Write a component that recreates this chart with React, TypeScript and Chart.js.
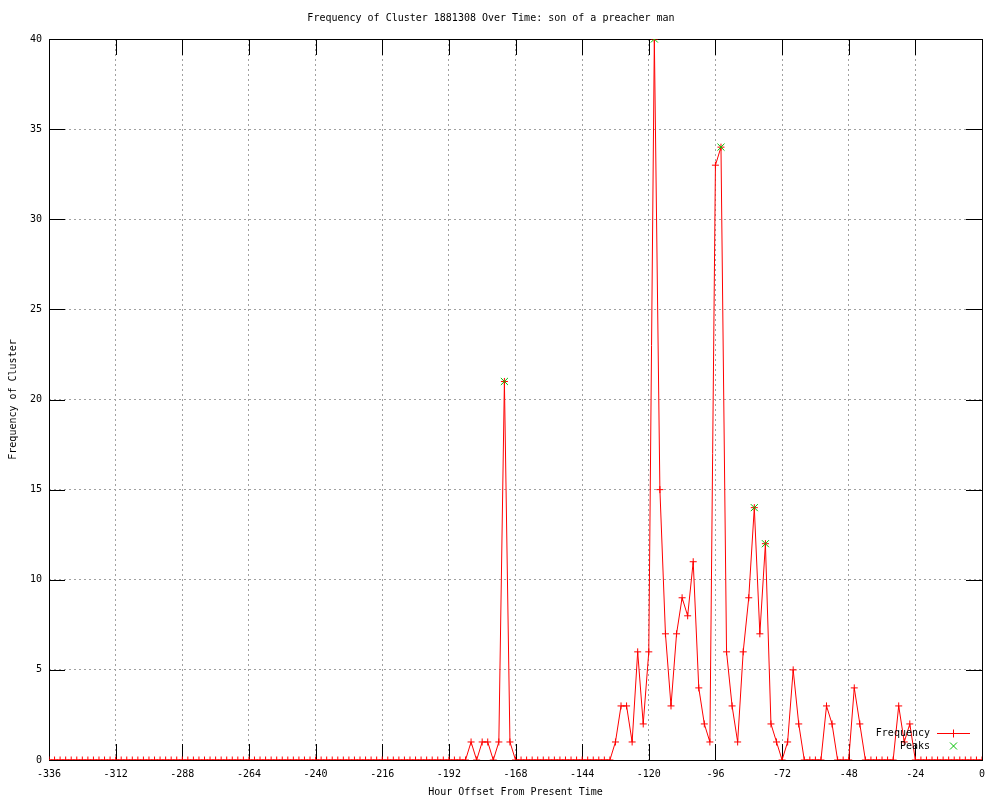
import { useEffect, useRef } from "react";
import { Chart, registerables } from "chart.js";

Chart.register(...registerables);

const TITLE = "Frequency of Cluster 1881308 Over Time: son of a preacher man";
const X_LABEL = "Hour Offset From Present Time";
const Y_LABEL = "Frequency of Cluster";

const hours = [
  -336, -334, -332, -330, -328, -326, -324, -322, -320, -318, -316, -314,
  -312, -310, -308, -306, -304, -302, -300, -298, -296, -294, -292, -290,
  -288, -286, -284, -282, -280, -278, -276, -274, -272, -270, -268, -266,
  -264, -262, -260, -258, -256, -254, -252, -250, -248, -246, -244, -242,
  -240, -238, -236, -234, -232, -230, -228, -226, -224, -222, -220, -218,
  -216, -214, -212, -210, -208, -206, -204, -202, -200, -198, -196, -194,
  -192, -190, -188, -186, -184, -182, -180, -178, -176, -174, -172, -170,
  -168, -166, -164, -162, -160, -158, -156, -154, -152, -150, -148, -146,
  -144, -142, -140, -138, -136, -134, -132, -130, -128, -126, -124, -122,
  -120, -118, -116, -114, -112, -110, -108, -106, -104, -102, -100, -98,
  -96, -94, -92, -90, -88, -86, -84, -82, -80, -78, -76, -74,
  -72, -70, -68, -66, -64, -62, -60, -58, -56, -54, -52, -50,
  -48, -46, -44, -42, -40, -38, -36, -34, -32, -30, -28, -26,
  -24, -22, -20, -18, -16, -14, -12, -10, -8, -6, -4, -2,
  0,
];

const frequency = [
  0, 0, 0, 0, 0, 0, 0, 0, 0, 0, 0, 0,
  0, 0, 0, 0, 0, 0, 0, 0, 0, 0, 0, 0,
  0, 0, 0, 0, 0, 0, 0, 0, 0, 0, 0, 0,
  0, 0, 0, 0, 0, 0, 0, 0, 0, 0, 0, 0,
  0, 0, 0, 0, 0, 0, 0, 0, 0, 0, 0, 0,
  0, 0, 0, 0, 0, 0, 0, 0, 0, 0, 0, 0,
  0, 0, 0, 0, 1, 0, 1, 1, 0, 1, 21, 1,
  0, 0, 0, 0, 0, 0, 0, 0, 0, 0, 0, 0,
  0, 0, 0, 0, 0, 0, 1, 3, 3, 1, 6, 2,
  6, 40, 15, 7, 3, 7, 9, 8, 11, 4, 2, 1,
  33, 34, 6, 3, 1, 6, 9, 14, 7, 12, 2, 1,
  0, 1, 5, 2, 0, 0, 0, 0, 3, 2, 0, 0,
  0, 4, 2, 0, 0, 0, 0, 0, 0, 3, 1, 2,
  0, 0, 0, 0, 0, 0, 0, 0, 0, 0, 0, 0,
  0,
];

const peakHours = [-172, -118, -94, -82, -78];
const peakValues = [21, 40, 34, 14, 12];

const X_MIN = -336;
const X_MAX = 0;
const X_STEP = 24;
const Y_MIN = 0;
const Y_MAX = 40;
const Y_STEP = 5;

const FONT_FAMILY = "'DejaVu Sans Mono', 'Liberation Mono', monospace";
const RED = "#ff0000";
const GREEN = "#00c000";

const framePlugin = {
  id: "gnuplotFrame",
  beforeDatasetsDraw(chart: any) {
    const { ctx, chartArea } = chart;
    const { left, right, top, bottom } = chartArea;
    const xs = chart.scales.x;
    const ys = chart.scales.y;
    const tl = 16;
    ctx.save();
    ctx.strokeStyle = "#000";
    ctx.lineWidth = 1;
    ctx.beginPath();
    xs.ticks.forEach((t: any) => {
      const px = Math.round(xs.getPixelForValue(t.value)) + 0.5;
      ctx.moveTo(px, bottom);
      ctx.lineTo(px, bottom - tl);
      ctx.moveTo(px, top);
      ctx.lineTo(px, top + tl);
    });
    ys.ticks.forEach((t: any) => {
      const py = Math.round(ys.getPixelForValue(t.value)) + 0.5;
      ctx.moveTo(left, py);
      ctx.lineTo(left + tl, py);
      ctx.moveTo(right, py);
      ctx.lineTo(right - tl, py);
    });
    ctx.stroke();
    ctx.strokeRect(Math.round(left) + 0.5, Math.round(top) + 0.5, Math.round(right - left), Math.round(bottom - top));
    ctx.restore();
  },
  afterDraw(chart: any) {
    const { ctx } = chart;
    ctx.save();
    ctx.font = `10px ${FONT_FAMILY}`;
    ctx.fillStyle = "#000";
    ctx.textAlign = "right";
    ctx.textBaseline = "middle";
    const tx = 930;
    const y1 = 733;
    const y2 = 746;
    ctx.fillText("Frequency", tx, y1);
    ctx.fillText("Peaks", tx, y2);
    ctx.strokeStyle = RED;
    ctx.lineWidth = 1;
    ctx.beginPath();
    ctx.moveTo(937, y1 + 0.5);
    ctx.lineTo(970, y1 + 0.5);
    ctx.moveTo(953.5, y1 - 3.5);
    ctx.lineTo(953.5, y1 + 4.5);
    ctx.stroke();
    ctx.strokeStyle = GREEN;
    ctx.beginPath();
    ctx.moveTo(950, y2 - 3.5);
    ctx.lineTo(957, y2 + 3.5);
    ctx.moveTo(957, y2 - 3.5);
    ctx.lineTo(950, y2 + 3.5);
    ctx.stroke();
    ctx.restore();
  },
};

export default function App() {
  const canvasRef = useRef<HTMLCanvasElement | null>(null);

  useEffect(() => {
    if (!canvasRef.current) return;
    const font = { family: FONT_FAMILY, size: 10, lineHeight: 1.2 };
    const chart = new Chart(canvasRef.current, {
      type: "line",
      data: {
        datasets: [
          {
            label: "Frequency",
            data: hours.map((h, i) => ({ x: h, y: frequency[i] })),
            borderColor: RED,
            backgroundColor: RED,
            borderWidth: 1,
            pointStyle: "cross",
            pointRadius: 3.5,
            pointBorderColor: RED,
            pointBorderWidth: 1,
            tension: 0,
            fill: false,
            order: 2,
          },
          {
            label: "Peaks",
            data: peakHours.map((h, i) => ({ x: h, y: peakValues[i] })),
            showLine: false,
            borderColor: GREEN,
            backgroundColor: GREEN,
            pointStyle: "crossRot",
            pointRadius: 5,
            pointBorderColor: GREEN,
            pointBorderWidth: 1,
            order: 1,
          },
        ],
      },
      options: {
        animation: false,
        responsive: false,
        devicePixelRatio: 1,
        layout: { padding: { top: 12, right: 18, left: 0, bottom: 0 } },
        plugins: {
          legend: { display: false },
          tooltip: { enabled: false },
          title: {
            display: true,
            text: TITLE,
            color: "#000",
            font: { ...font, weight: "normal" },
            padding: { top: 0, bottom: 15 },
          },
        },
        scales: {
          x: {
            type: "linear",
            min: X_MIN,
            max: X_MAX,
            grid: { color: "#a0a0a0", drawTicks: false, lineWidth: 1 },
            border: { display: false, dash: [2, 3] },
            ticks: {
              stepSize: X_STEP,
              color: "#000",
              font,
              padding: 8,
              maxRotation: 0,
              autoSkip: false,
            },
            title: {
              display: true,
              text: X_LABEL,
              color: "#000",
              font,
              padding: { top: 0, bottom: 2 },
            },
            afterFit: (s: any) => {
              s.height = 40;
            },
          },
          y: {
            type: "linear",
            min: Y_MIN,
            max: Y_MAX,
            grid: { color: "#a0a0a0", drawTicks: false, lineWidth: 1 },
            border: { display: false, dash: [2, 3] },
            ticks: {
              stepSize: Y_STEP,
              color: "#000",
              font,
              padding: 7,
            },
            title: {
              display: true,
              text: Y_LABEL,
              color: "#000",
              font,
              padding: { top: 7, bottom: 0 },
            },
            afterFit: (s: any) => {
              s.width = 49;
            },
          },
        },
      },
      plugins: [framePlugin],
    } as any);
    return () => chart.destroy();
  }, []);

  return (
    <div style={{ position: "fixed", left: 0, top: 0, width: 1000, height: 800, background: "#fff" }}>
      <canvas ref={canvasRef} width={1000} height={800} />
    </div>
  );
}
